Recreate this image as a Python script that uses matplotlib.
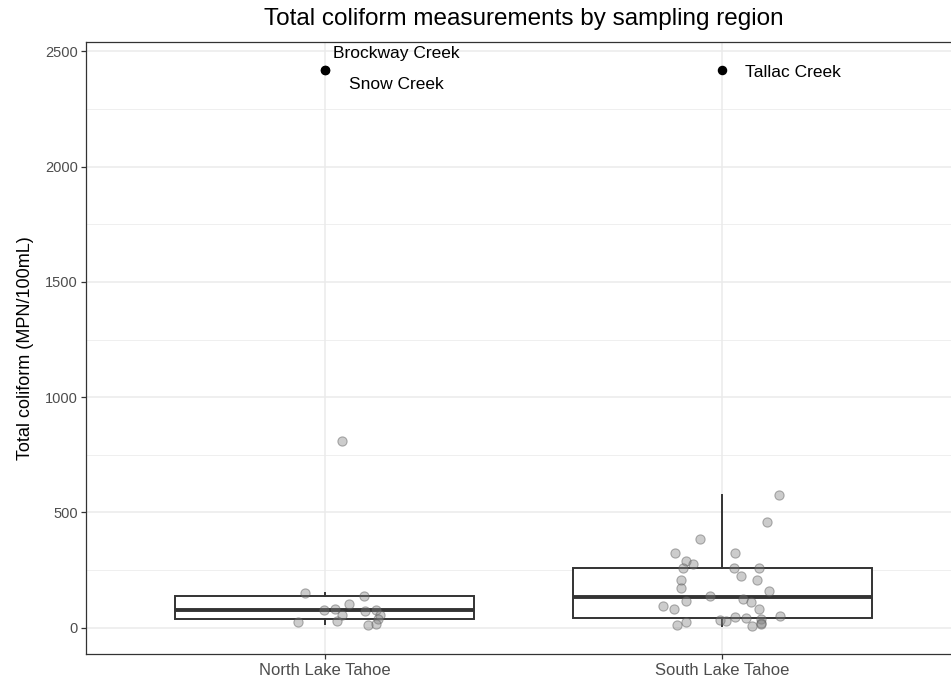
import numpy as np
import matplotlib.pyplot as plt

plt.rcParams['font.family'] = ['Liberation Sans', 'DejaVu Sans']

regions = ["North Lake Tahoe", "South Lake Tahoe"]

# jittered sample values (MPN/100mL) and their horizontal jitter offsets
north_vals = [812, 152, 139, 102, 78, 83, 75, 76, 57, 55, 37, 25, 29, 13, 17]
north_jit = [0.044, -0.049, 0.098, 0.062, -0.001, 0.025, 0.101, 0.128, 0.139,
             0.043, 0.133, -0.068, 0.032, 0.110, 0.130]
south_vals = [576, 458, 385, 325, 325, 290, 276, 259, 259, 259, 224, 208, 208,
              171, 159, 138, 125, 118, 112, 94, 81, 83, 52, 47, 42, 35, 30, 40,
              25, 20, 10, 7, 16]
south_jit = [0.143, 0.112, -0.056, -0.118, 0.033, -0.091, -0.073, -0.099, 0.030,
             0.092, 0.048, -0.105, 0.087, -0.103, 0.117, -0.032, 0.051, -0.091,
             0.073, -0.150, -0.121, 0.091, 0.146, 0.033, 0.059, -0.005, 0.008,
             0.096, -0.091, 0.097, -0.114, 0.074, 0.096]

# box summaries: lower whisker, q1, median, q3, upper whisker
box_stats = {
    "North Lake Tahoe": [17, 37, 78, 139, 150],
    "South Lake Tahoe": [7, 42, 134, 259, 575],
}

# labelled extreme sites
site_names = ["Brockway Creek", "Snow Creek", "Tallac Creek"]
site_region = [0, 0, 1]
site_vals = [2419.6, 2419.6, 2419.6]
label_dx = [0.022, 0.061, 0.058]
label_y = [2489, 2356, 2406]

fig = plt.figure(figsize=(9.51, 6.8), dpi=100)
# panel runs slightly past the right edge of the canvas
ax = fig.add_axes([86 / 951, 1 - 654 / 680, 875 / 951, 612 / 680])

stats = []
for name in regions:
    wl, q1, med, q3, wh = box_stats[name]
    stats.append(dict(whislo=wl, q1=q1, med=med, q3=q3, whishi=wh, fliers=[]))
ax.bxp(stats, positions=[0, 1], widths=0.75, showcaps=False, patch_artist=True,
       boxprops=dict(facecolor='white', edgecolor='#333333', linewidth=1.4),
       whiskerprops=dict(color='#333333', linewidth=1.4),
       medianprops=dict(color='#333333', linewidth=2.8), zorder=2)

for i, (vals, jit) in enumerate([(north_vals, north_jit), (south_vals, south_jit)]):
    ax.scatter(i + np.array(jit), vals, s=44, facecolor=(0.5, 0.5, 0.5, 0.4),
               edgecolor=(0.35, 0.35, 0.35, 0.45), linewidth=0.8, zorder=3)

ax.scatter(site_region, site_vals, s=34, color='black', zorder=4)
for name, r, dx, ly in zip(site_names, site_region, label_dx, label_y):
    ax.text(r + dx, ly, name, fontsize=12.5, va='center', ha='left', color='black')

all_vals = north_vals + south_vals + site_vals
lo, hi = min(all_vals), max(all_vals)
pad = 0.05 * (hi - lo)
ax.set_ylim(lo - pad, hi + pad)
ax.set_xlim(-0.6, 1.6)

ax.set_yticks([0, 500, 1000, 1500, 2000, 2500])
ax.set_yticks([250, 750, 1250, 1750, 2250], minor=True)
ax.set_xticks([0, 1])
ax.set_xticklabels(regions)
ax.grid(which='major', color='#ebebeb', linewidth=1.1, zorder=0)
ax.grid(which='minor', axis='y', color='#ebebeb', linewidth=0.55, zorder=0)
ax.set_axisbelow(True)
ax.tick_params(which='major', length=3.5, color='#333333', labelcolor='#4d4d4d',
               width=0.9, pad=3)
ax.tick_params(axis='y', labelsize=10.5, pad=2.5)
ax.tick_params(axis='x', labelsize=12)
ax.tick_params(which='minor', length=0)
for sp in ax.spines.values():
    sp.set_color('#333333')
    sp.set_linewidth(0.9)

ax.set_ylabel("Total coliform (MPN/100mL)", fontsize=13, labelpad=8)
ax.set_title("Total coliform measurements by sampling region", fontsize=17.5, pad=12)

fig.savefig('out.png', dpi=100)
